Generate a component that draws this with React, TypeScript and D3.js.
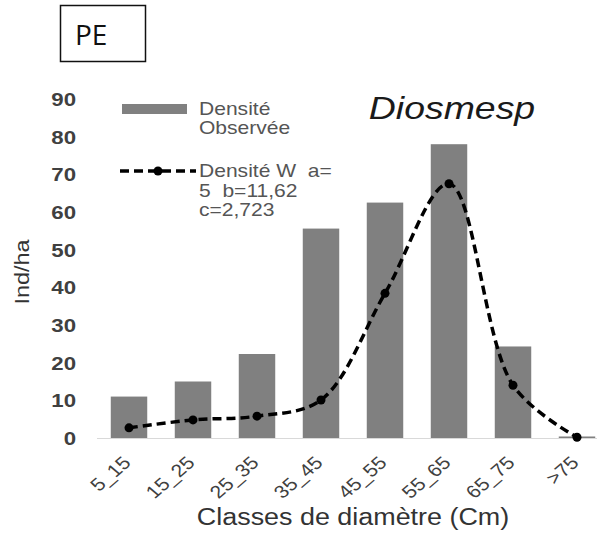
import { useEffect, useRef } from 'react'
import * as d3 from 'd3'

const classes = ['5_15', '15_25', '25_35', '35_45', '45_55', '55_65', '65_75', '>75']
const observed = [11, 15, 22.3, 55.6, 62.5, 78, 24.3, 0.4]
const weibull = [2.7, 4.8, 5.8, 10.1, 38.4, 67.5, 14, 0.2]
const yTicks = [0, 10, 20, 30, 40, 50, 60, 70, 80, 90]
const legendObs = ['Densité', 'Observée']
const legendLines = ['Densité W  a=', '5  b=11,62', 'c=2,723']

const W = 613
const H = 544
const SX = 1.17 // the source picture is stretched sideways

export default function App() {
  const svgRef = useRef<SVGSVGElement>(null)

  useEffect(() => {
    if (!svgRef.current) return
    const svg = d3.select(svgRef.current)
    svg.selectAll('*').remove()

    const x = d3.scaleBand<string>().domain(classes).range([97, 609]).paddingInner(0.43).paddingOuter(0.215)
    const y = d3.scaleLinear().domain([0, 90]).range([438, 99])
    const font = 'Liberation Sans, Arial, sans-serif'

    svg.append('rect').attr('width', W).attr('height', H).attr('fill', '#fff')

    // text stretched horizontally (in screen space)
    const wide = (px: number, py: number, rot = 0) =>
      svg.append('text')
        .attr('transform', `translate(${px},${py}) scale(${SX},1) rotate(${rot})`)
        .attr('font-family', font)

    // PE box
    svg.append('rect')
      .attr('x', 60.5).attr('y', 5.5).attr('width', 85).attr('height', 56)
      .attr('fill', 'none').attr('stroke', '#111').attr('stroke-width', 1.5)
    svg.append('text')
      .attr('x', 75).attr('y', 45)
      .attr('font-family', 'Open Sans, sans-serif').attr('font-size', 28)
      .attr('fill', '#111').text('PE')

    // bars
    svg.append('g').selectAll('rect').data(classes).join('rect')
      .attr('x', d => x(d)!)
      .attr('width', x.bandwidth())
      .attr('y', (_, i) => y(observed[i]))
      .attr('height', (_, i) => y(0) - y(observed[i]))
      .attr('fill', '#808080')

    // baseline
    svg.append('line')
      .attr('x1', 97).attr('x2', 597).attr('y1', y(0) + 0.5).attr('y2', y(0) + 0.5)
      .attr('stroke', '#d9d9d9').attr('stroke-width', 1)

    // y labels
    yTicks.forEach(t => {
      wide(76, y(t)).attr('dy', '0.36em')
        .attr('text-anchor', 'end')
        .attr('font-size', 19).attr('font-weight', 'bold')
        .attr('fill', '#404040')
        .text(t)
    })

    // x labels
    classes.forEach(c => {
      wide(x(c)! + x.bandwidth() / 2 + 3, 464, -45)
        .attr('text-anchor', 'end')
        .attr('font-size', 18)
        .attr('fill', '#404040')
        .text(c)
    })

    // weibull curve
    const pts: [number, number][] = classes.map((c, i) => [x(c)! + x.bandwidth() / 2, y(weibull[i])])
    svg.append('path')
      .attr('d', d3.line().curve(d3.curveCatmullRom.alpha(0.5))(pts))
      .attr('fill', 'none').attr('stroke', '#000').attr('stroke-width', 3.5)
      .attr('stroke-dasharray', '9,5')
    svg.append('g').selectAll('circle').data(pts).join('circle')
      .attr('cx', d => d[0]).attr('cy', d => d[1]).attr('r', 4.5).attr('fill', '#000')

    // title
    wide(452, 119).attr('text-anchor', 'middle')
      .attr('font-size', 32).attr('font-style', 'italic')
      .attr('fill', '#1a1a1a').text('Diosmesp')

    // axis titles
    svg.append('text')
      .attr('transform', 'translate(29,272) rotate(-90) scale(1.17,1)')
      .attr('text-anchor', 'middle')
      .attr('font-family', font).attr('font-size', 20).attr('fill', '#333')
      .text('Ind/ha')
    wide(353, 525).attr('text-anchor', 'middle')
      .attr('font-size', 23).attr('fill', '#333')
      .text('Classes de diamètre (Cm)')

    // legend
    svg.append('rect').attr('x', 122).attr('y', 104).attr('width', 65).attr('height', 10).attr('fill', '#808080')
    legendObs.forEach((d, i) => {
      wide(199, 115 + i * 18.5).attr('font-size', 18).attr('fill', '#555').text(d)
    })
    svg.append('line').attr('x1', 120).attr('x2', 196).attr('y1', 171).attr('y2', 171)
      .attr('stroke', '#000').attr('stroke-width', 3.5).attr('stroke-dasharray', '9,5')
    svg.append('circle').attr('cx', 158).attr('cy', 171).attr('r', 4.5).attr('fill', '#000')
    legendLines.forEach((d, i) => {
      wide(199, 177 + i * 19.5).attr('font-size', 18).attr('fill', '#555')
        .style('white-space', 'pre').text(d)
    })
  }, [])

  return <svg ref={svgRef} width={W} height={H} style={{ position: 'absolute', left: 0, top: 0 }} />
}
